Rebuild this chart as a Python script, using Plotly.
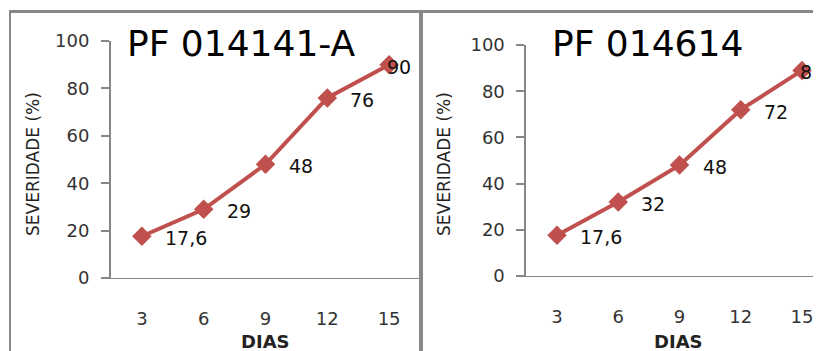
import plotly.graph_objects as go

days = [3, 6, 9, 12, 15]
sev_a = [17.6, 29, 48, 76, 90]
sev_b = [17.6, 32, 48, 72, 89]
titles = ["PF 014141-A", "PF 014614"]
y_ticks = [0, 20, 40, 60, 80, 100]
x_title = "DIAS"
y_title = "SEVERIDADE (%)"

W, H = 821, 351
# the page body adds an 8px offset; positions below are screen pixels
OX, OY = 8, 8
RED = "#C0504D"
GRAY = "#868686"
FONT = "DejaVu Sans"


def fmt(v):
    s = ("%g" % v)
    return s.replace(".", ",")


def px(x):
    return (x - OX) / W


def py(y):
    return 1 - (y - OY) / H


fig = go.Figure()

panels = [
    dict(vals=sev_a, xa="x", ya="y", xdom=[px(111), px(420)], ydom=[py(278), py(41)],
         xr=[1.5, 16.5], title_x=241, ytitle_x=33, dias_x=265),
    dict(vals=sev_b, xa="x2", ya="y2", xdom=[px(526.4), px(821)], ydom=[py(276), py(45)],
         xr=[1.5, 15.93], title_x=647, ytitle_x=444, dias_x=678),
]

annotations = []
for i, p in enumerate(panels):
    fig.add_trace(go.Scatter(
        x=days, y=p["vals"], xaxis=p["xa"], yaxis=p["ya"], mode="lines+markers",
        line=dict(color=RED, width=4),
        marker=dict(symbol="diamond", size=15, color=RED),
        showlegend=False, cliponaxis=False, hoverinfo="skip"))
    n = len(days)
    for j, (d, v) in enumerate(zip(days, p["vals"])):
        last = j == n - 1
        annotations.append(dict(
            x=d, y=v, xref=p["xa"], yref=p["ya"], text=fmt(v), showarrow=False,
            xanchor="left", yanchor="middle", xshift=(-4 if last else 21), yshift=-2,
            font=dict(family=FONT, size=19, color="#111")))
    annotations.append(dict(
        x=px(p["title_x"]), y=py(44), xref="paper", yref="paper", text=titles[i],
        showarrow=False, xanchor="center", yanchor="middle",
        font=dict(family=FONT, size=36, color="#000")))
    annotations.append(dict(
        x=px(p["ytitle_x"]), y=py(164), xref="paper", yref="paper", text=y_title,
        showarrow=False, xanchor="center", yanchor="middle", textangle=-90,
        font=dict(family=FONT, size=17, color="#222")))
    annotations.append(dict(
        x=px(p["dias_x"]), y=py(341), xref="paper", yref="paper", text="<b>" + x_title + "</b>",
        showarrow=False, xanchor="center", yanchor="middle",
        font=dict(family=FONT, size=18, color="#222")))

axis_common_x = dict(showgrid=False, zeroline=False, showline=True, linecolor=GRAY, linewidth=1,
                     ticks="", tickvals=days, ticktext=[str(d) for d in days],
                     tickfont=dict(family=FONT, size=18, color="#333"), ticklabelstandoff=24,
                     fixedrange=True, automargin=False)
axis_common_y = dict(showgrid=False, zeroline=False, showline=True, linecolor=GRAY, linewidth=2,
                     ticks="outside", ticklen=8, tickcolor=GRAY, tickwidth=1.5,
                     tickvals=y_ticks, range=[0, 100],
                     tickfont=dict(family=FONT, size=18, color="#333"), ticklabelstandoff=8,
                     fixedrange=True, automargin=False)

fig.update_layout(
    width=W, height=H, margin=dict(l=0, r=0, t=0, b=0, pad=0, autoexpand=False),
    paper_bgcolor="white", plot_bgcolor="white",
    xaxis=dict(domain=panels[0]["xdom"], range=panels[0]["xr"], anchor="y", **axis_common_x),
    yaxis=dict(domain=panels[0]["ydom"], anchor="x", **axis_common_y),
    xaxis2=dict(domain=panels[1]["xdom"], range=panels[1]["xr"], anchor="y2", **axis_common_x),
    yaxis2=dict(domain=panels[1]["ydom"], anchor="x2", **axis_common_y),
    annotations=annotations,
    shapes=[
        dict(type="line", xref="paper", yref="paper", x0=px(9), x1=1.0, y0=py(11.5), y1=py(11.5),
             line=dict(color="#888888", width=3)),
        dict(type="line", xref="paper", yref="paper", x0=px(10), x1=px(10), y0=py(11.5), y1=0,
             line=dict(color="#888888", width=2)),
        dict(type="line", xref="paper", yref="paper", x0=px(421), x1=px(421), y0=py(11.5), y1=0,
             line=dict(color="#888888", width=4)),
    ],
)

fig.write_html("out.html")
